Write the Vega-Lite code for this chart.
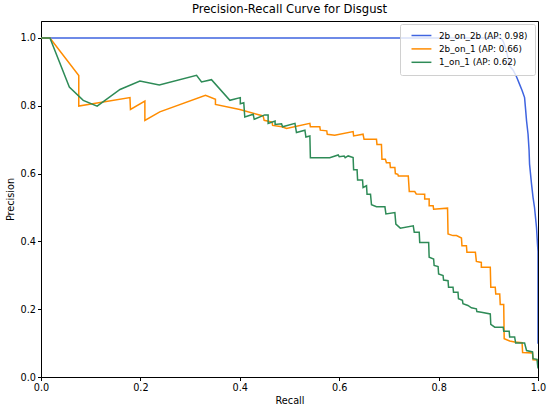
{
  "$schema": "https://vega.github.io/schema/vega-lite/v6.json",
  "width": 497,
  "height": 356,
  "autosize": {"type": "none"},
  "padding": {"left": 41, "top": 21, "right": 12, "bottom": 33},
  "background": "white",
  "title": {"text": "Precision-Recall Curve for Disgust", "fontSize": 11.6, "font": "DejaVu Sans", "fontWeight": "normal", "color": "black", "offset": 5},
  "config": {
    "font": "DejaVu Sans",
    "view": {"stroke": "black", "strokeWidth": 1},
    "axis": {"grid": false, "labelFlush": false, "domainColor": "black", "domainWidth": 1, "tickColor": "black", "tickWidth": 1, "tickSize": 3.5, "labelFontSize": 9.7, "labelColor": "black", "titleFontSize": 9.7, "titleFontWeight": "normal", "titleColor": "black", "labelPadding": 2, "labelFont": "DejaVu Sans", "titleFont": "DejaVu Sans"},
    "legend": {"labelFont": "DejaVu Sans"}
  },
  "data": {"values": [
    {"s":"A","i":0,"r":0.0,"p":1.0},
    {"s":"A","i":1,"r":0.925,"p":1.0},
    {"s":"A","i":2,"r":0.93,"p":0.99},
    {"s":"A","i":3,"r":0.935,"p":0.97},
    {"s":"A","i":4,"r":0.94,"p":0.94},
    {"s":"A","i":5,"r":0.943,"p":0.917},
    {"s":"A","i":6,"r":0.95,"p":0.905},
    {"s":"A","i":7,"r":0.957,"p":0.885},
    {"s":"A","i":8,"r":0.963,"p":0.863},
    {"s":"A","i":9,"r":0.968,"p":0.845},
    {"s":"A","i":10,"r":0.973,"p":0.824},
    {"s":"A","i":11,"r":0.975,"p":0.79},
    {"s":"A","i":12,"r":0.977,"p":0.755},
    {"s":"A","i":13,"r":0.98,"p":0.716},
    {"s":"A","i":14,"r":0.982,"p":0.67},
    {"s":"A","i":15,"r":0.983,"p":0.628},
    {"s":"A","i":16,"r":0.987,"p":0.569},
    {"s":"A","i":17,"r":0.99,"p":0.53},
    {"s":"A","i":18,"r":0.993,"p":0.5},
    {"s":"A","i":19,"r":0.997,"p":0.441},
    {"s":"A","i":20,"r":0.999,"p":0.392},
    {"s":"A","i":21,"r":1.0,"p":0.37},
    {"s":"A","i":22,"r":1.0,"p":0.098},

    {"s":"B","i":0,"r":0.0,"p":1.0},
    {"s":"B","i":1,"r":0.018,"p":1.0},
    {"s":"B","i":2,"r":0.076,"p":0.889},
    {"s":"B","i":3,"r":0.076,"p":0.799},
    {"s":"B","i":4,"r":0.179,"p":0.824},
    {"s":"B","i":5,"r":0.18,"p":0.789},
    {"s":"B","i":6,"r":0.209,"p":0.814},
    {"s":"B","i":7,"r":0.209,"p":0.757},
    {"s":"B","i":8,"r":0.239,"p":0.782},
    {"s":"B","i":9,"r":0.331,"p":0.831},
    {"s":"B","i":10,"r":0.351,"p":0.819},
    {"s":"B","i":11,"r":0.351,"p":0.804},
    {"s":"B","i":12,"r":0.4,"p":0.789},
    {"s":"B","i":13,"r":0.447,"p":0.77},
    {"s":"B","i":14,"r":0.449,"p":0.757},
    {"s":"B","i":15,"r":0.465,"p":0.752},
    {"s":"B","i":16,"r":0.466,"p":0.742},
    {"s":"B","i":17,"r":0.485,"p":0.738},
    {"s":"B","i":18,"r":0.494,"p":0.733},
    {"s":"B","i":19,"r":0.541,"p":0.748},
    {"s":"B","i":20,"r":0.542,"p":0.738},
    {"s":"B","i":21,"r":0.561,"p":0.738},
    {"s":"B","i":22,"r":0.562,"p":0.728},
    {"s":"B","i":23,"r":0.575,"p":0.726},
    {"s":"B","i":24,"r":0.576,"p":0.716},
    {"s":"B","i":25,"r":0.591,"p":0.713},
    {"s":"B","i":26,"r":0.628,"p":0.724},
    {"s":"B","i":27,"r":0.629,"p":0.711},
    {"s":"B","i":28,"r":0.648,"p":0.716},
    {"s":"B","i":29,"r":0.65,"p":0.701},
    {"s":"B","i":30,"r":0.675,"p":0.701},
    {"s":"B","i":31,"r":0.676,"p":0.686},
    {"s":"B","i":32,"r":0.685,"p":0.686},
    {"s":"B","i":33,"r":0.686,"p":0.642},
    {"s":"B","i":34,"r":0.693,"p":0.642},
    {"s":"B","i":35,"r":0.695,"p":0.632},
    {"s":"B","i":36,"r":0.702,"p":0.632},
    {"s":"B","i":37,"r":0.703,"p":0.618},
    {"s":"B","i":38,"r":0.712,"p":0.618},
    {"s":"B","i":39,"r":0.713,"p":0.6},
    {"s":"B","i":40,"r":0.718,"p":0.598},
    {"s":"B","i":41,"r":0.719,"p":0.593},
    {"s":"B","i":42,"r":0.739,"p":0.593},
    {"s":"B","i":43,"r":0.741,"p":0.547},
    {"s":"B","i":44,"r":0.752,"p":0.547},
    {"s":"B","i":45,"r":0.755,"p":0.54},
    {"s":"B","i":46,"r":0.772,"p":0.539},
    {"s":"B","i":47,"r":0.772,"p":0.525},
    {"s":"B","i":48,"r":0.781,"p":0.525},
    {"s":"B","i":49,"r":0.781,"p":0.505},
    {"s":"B","i":50,"r":0.789,"p":0.505},
    {"s":"B","i":51,"r":0.79,"p":0.495},
    {"s":"B","i":52,"r":0.818,"p":0.498},
    {"s":"B","i":53,"r":0.819,"p":0.422},
    {"s":"B","i":54,"r":0.829,"p":0.417},
    {"s":"B","i":55,"r":0.836,"p":0.417},
    {"s":"B","i":56,"r":0.846,"p":0.41},
    {"s":"B","i":57,"r":0.847,"p":0.387},
    {"s":"B","i":58,"r":0.856,"p":0.387},
    {"s":"B","i":59,"r":0.857,"p":0.368},
    {"s":"B","i":60,"r":0.874,"p":0.368},
    {"s":"B","i":61,"r":0.876,"p":0.341},
    {"s":"B","i":62,"r":0.886,"p":0.338},
    {"s":"B","i":63,"r":0.886,"p":0.324},
    {"s":"B","i":64,"r":0.904,"p":0.324},
    {"s":"B","i":65,"r":0.905,"p":0.265},
    {"s":"B","i":66,"r":0.914,"p":0.265},
    {"s":"B","i":67,"r":0.915,"p":0.245},
    {"s":"B","i":68,"r":0.923,"p":0.245},
    {"s":"B","i":69,"r":0.924,"p":0.214},
    {"s":"B","i":70,"r":0.931,"p":0.214},
    {"s":"B","i":71,"r":0.932,"p":0.113},
    {"s":"B","i":72,"r":0.943,"p":0.106},
    {"s":"B","i":73,"r":0.953,"p":0.103},
    {"s":"B","i":74,"r":0.968,"p":0.101},
    {"s":"B","i":75,"r":0.969,"p":0.072},
    {"s":"B","i":76,"r":0.989,"p":0.071},
    {"s":"B","i":77,"r":0.99,"p":0.051},
    {"s":"B","i":78,"r":1.0,"p":0.05},

    {"s":"C","i":0,"r":0.0,"p":1.0},
    {"s":"C","i":1,"r":0.018,"p":1.0},
    {"s":"C","i":2,"r":0.057,"p":0.855},
    {"s":"C","i":3,"r":0.085,"p":0.816},
    {"s":"C","i":4,"r":0.113,"p":0.799},
    {"s":"C","i":5,"r":0.159,"p":0.848},
    {"s":"C","i":6,"r":0.199,"p":0.873},
    {"s":"C","i":7,"r":0.238,"p":0.861},
    {"s":"C","i":8,"r":0.313,"p":0.89},
    {"s":"C","i":9,"r":0.323,"p":0.87},
    {"s":"C","i":10,"r":0.343,"p":0.877},
    {"s":"C","i":11,"r":0.38,"p":0.816},
    {"s":"C","i":12,"r":0.401,"p":0.824},
    {"s":"C","i":13,"r":0.401,"p":0.806},
    {"s":"C","i":14,"r":0.408,"p":0.809},
    {"s":"C","i":15,"r":0.41,"p":0.767},
    {"s":"C","i":16,"r":0.427,"p":0.775},
    {"s":"C","i":17,"r":0.429,"p":0.76},
    {"s":"C","i":18,"r":0.45,"p":0.773},
    {"s":"C","i":19,"r":0.457,"p":0.773},
    {"s":"C","i":20,"r":0.457,"p":0.748},
    {"s":"C","i":21,"r":0.471,"p":0.755},
    {"s":"C","i":22,"r":0.471,"p":0.745},
    {"s":"C","i":23,"r":0.484,"p":0.747},
    {"s":"C","i":24,"r":0.486,"p":0.738},
    {"s":"C","i":25,"r":0.511,"p":0.748},
    {"s":"C","i":26,"r":0.514,"p":0.721},
    {"s":"C","i":27,"r":0.531,"p":0.728},
    {"s":"C","i":28,"r":0.533,"p":0.708},
    {"s":"C","i":29,"r":0.541,"p":0.711},
    {"s":"C","i":30,"r":0.542,"p":0.647},
    {"s":"C","i":31,"r":0.581,"p":0.647},
    {"s":"C","i":32,"r":0.598,"p":0.655},
    {"s":"C","i":33,"r":0.6,"p":0.65},
    {"s":"C","i":34,"r":0.61,"p":0.652},
    {"s":"C","i":35,"r":0.612,"p":0.647},
    {"s":"C","i":36,"r":0.618,"p":0.652},
    {"s":"C","i":37,"r":0.628,"p":0.647},
    {"s":"C","i":38,"r":0.629,"p":0.611},
    {"s":"C","i":39,"r":0.636,"p":0.611},
    {"s":"C","i":40,"r":0.637,"p":0.581},
    {"s":"C","i":41,"r":0.647,"p":0.581},
    {"s":"C","i":42,"r":0.648,"p":0.559},
    {"s":"C","i":43,"r":0.655,"p":0.564},
    {"s":"C","i":44,"r":0.656,"p":0.539},
    {"s":"C","i":45,"r":0.663,"p":0.539},
    {"s":"C","i":46,"r":0.665,"p":0.508},
    {"s":"C","i":47,"r":0.675,"p":0.502},
    {"s":"C","i":48,"r":0.692,"p":0.502},
    {"s":"C","i":49,"r":0.694,"p":0.481},
    {"s":"C","i":50,"r":0.712,"p":0.485},
    {"s":"C","i":51,"r":0.714,"p":0.451},
    {"s":"C","i":52,"r":0.723,"p":0.439},
    {"s":"C","i":53,"r":0.749,"p":0.446},
    {"s":"C","i":54,"r":0.751,"p":0.427},
    {"s":"C","i":55,"r":0.761,"p":0.427},
    {"s":"C","i":56,"r":0.762,"p":0.397},
    {"s":"C","i":57,"r":0.78,"p":0.397},
    {"s":"C","i":58,"r":0.781,"p":0.353},
    {"s":"C","i":59,"r":0.79,"p":0.348},
    {"s":"C","i":60,"r":0.791,"p":0.329},
    {"s":"C","i":61,"r":0.799,"p":0.326},
    {"s":"C","i":62,"r":0.8,"p":0.304},
    {"s":"C","i":63,"r":0.809,"p":0.299},
    {"s":"C","i":64,"r":0.81,"p":0.286},
    {"s":"C","i":65,"r":0.819,"p":0.284},
    {"s":"C","i":66,"r":0.82,"p":0.265},
    {"s":"C","i":67,"r":0.829,"p":0.265},
    {"s":"C","i":68,"r":0.83,"p":0.25},
    {"s":"C","i":69,"r":0.839,"p":0.25},
    {"s":"C","i":70,"r":0.84,"p":0.231},
    {"s":"C","i":71,"r":0.848,"p":0.226},
    {"s":"C","i":72,"r":0.849,"p":0.216},
    {"s":"C","i":73,"r":0.859,"p":0.211},
    {"s":"C","i":74,"r":0.866,"p":0.204},
    {"s":"C","i":75,"r":0.876,"p":0.201},
    {"s":"C","i":76,"r":0.877,"p":0.193},
    {"s":"C","i":77,"r":0.886,"p":0.191},
    {"s":"C","i":78,"r":0.904,"p":0.186},
    {"s":"C","i":79,"r":0.905,"p":0.155},
    {"s":"C","i":80,"r":0.913,"p":0.147},
    {"s":"C","i":81,"r":0.93,"p":0.147},
    {"s":"C","i":82,"r":0.931,"p":0.135},
    {"s":"C","i":83,"r":0.942,"p":0.135},
    {"s":"C","i":84,"r":0.943,"p":0.118},
    {"s":"C","i":85,"r":0.953,"p":0.118},
    {"s":"C","i":86,"r":0.955,"p":0.1},
    {"s":"C","i":87,"r":0.973,"p":0.1},
    {"s":"C","i":88,"r":0.977,"p":0.078},
    {"s":"C","i":89,"r":0.989,"p":0.074},
    {"s":"C","i":90,"r":0.99,"p":0.054},
    {"s":"C","i":91,"r":0.998,"p":0.052},
    {"s":"C","i":92,"r":1.0,"p":0.025}
  ]},
  "mark": {"type": "line", "strokeWidth": 1.5, "clip": true},
  "encoding": {
    "x": {"field": "r", "type": "quantitative", "title": "Recall",
          "scale": {"domain": [0, 1], "nice": false, "zero": false},
          "axis": {"values": [0, 0.2, 0.4, 0.6, 0.8, 1.0], "format": ".1f", "titlePadding": 3}},
    "y": {"field": "p", "type": "quantitative", "title": "Precision",
          "scale": {"domain": [0, 1.05], "nice": false, "zero": false},
          "axis": {"values": [0, 0.2, 0.4, 0.6, 0.8, 1.0], "format": ".1f", "titlePadding": 5}},
    "color": {"field": "s", "type": "nominal",
              "scale": {"domain": ["A", "B", "C"], "range": ["#3f64e0", "#ff8c00", "#2e8b57"]},
              "legend": {"title": null, "orient": "top-right", "offset": 3,
                         "labelExpr": "datum.value == 'A' ? '2b_on_2b (AP: 0.98)' : datum.value == 'B' ? '2b_on_1 (AP: 0.66)' : '1_on_1 (AP: 0.62)'",
                         "symbolType": "M0,0H6", "symbolSize": 44, "symbolStrokeWidth": 1.5,
                         "labelFontSize": 8.8, "labelColor": "black", "labelOffset": 23,
                         "padding": 7, "rowPadding": 3.4,
                         "strokeColor": "#d0d0d0", "fillColor": "rgba(255,255,255,0.8)", "cornerRadius": 2}},
    "order": {"field": "i", "type": "quantitative"}
  }
}
